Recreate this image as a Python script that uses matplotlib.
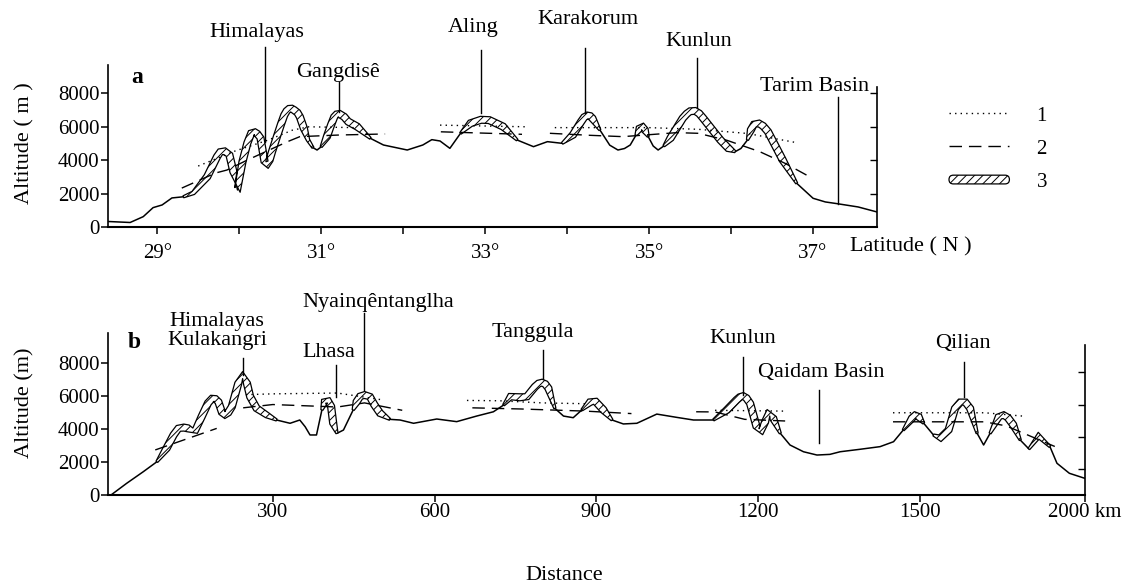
import numpy as np
import matplotlib
matplotlib.use("Agg")
import matplotlib.pyplot as plt
import matplotlib.patches as mpatches
from matplotlib.lines import Line2D
from matplotlib.legend_handler import HandlerPatch

plt.rcParams['font.family'] = ['Liberation Serif', 'DejaVu Serif']
plt.rcParams['hatch.linewidth'] = 0.7
plt.rcParams['hatch.color'] = 'black'

# ---------------- data: panel a (latitude profile) ----------------
lat_a = [28.40, 28.67, 28.83, 28.95, 29.06, 29.18, 29.32, 29.44, 29.61, 29.73,
         29.77, 29.82, 29.88, 29.93, 29.98, 30.04, 30.10, 30.15, 30.19, 30.22,
         30.26, 30.31, 30.34, 30.37, 30.40, 30.46, 30.51, 30.55, 30.58, 30.61,
         30.64, 30.67, 30.71, 30.74, 30.79, 30.84, 30.90, 30.95, 31.00, 31.07,
         31.12, 31.16, 31.19, 31.22, 31.28, 31.33, 31.44, 31.60, 31.76, 32.05,
         32.24, 32.35, 32.45, 32.57, 32.70, 32.82, 32.95, 33.05, 33.22, 33.39,
         33.59, 33.76, 33.94, 34.07, 34.17, 34.21, 34.25, 34.28, 34.31, 34.40,
         34.52, 34.62, 34.70, 34.77, 34.84, 34.88, 34.92, 34.95, 34.99, 35.05,
         35.11, 35.18, 35.26, 35.41, 35.46, 35.50, 35.56, 35.61, 35.66, 35.87,
         35.97, 36.05, 36.12, 36.20, 36.24, 36.28, 36.34, 36.39, 36.45, 36.63,
         36.80, 37.00, 37.15, 37.29, 37.55, 37.78]
alt_a = [330, 270, 620, 1160, 1320, 1740, 1810, 2040, 3010, 4210,
         4500, 4540, 4330, 3300, 2220, 3900, 5030, 5650, 5680, 5580,
         5330, 3900, 3710, 4000, 4500, 5410, 6150, 6700, 6950, 7080,
         7090, 7000, 6850, 6600, 5900, 5210, 4750, 4610, 4800, 5410,
         6100, 6600, 6750, 6780, 6600, 6310, 6010, 5310, 4910, 4610,
         4910, 5230, 5150, 4710, 5610, 6210, 6420, 6400, 6010, 5210,
         4810, 5110, 5010, 5510, 6300, 6580, 6680, 6650, 6500, 5810,
         4900, 4610, 4700, 4910, 5500, 5900, 6020, 5800, 5410, 4850,
         4610, 4850, 5310, 6510, 6780, 6930, 6950, 6800, 6510, 5210,
         4700, 4510, 4700, 5210, 5800, 6150, 6200, 6050, 5710, 4010,
         2620, 1720, 1500, 1400, 1200, 900]

# line 1 (dotted) segments, panel a
dot_a_lat = [[29.50, 29.95, 30.35, 30.65, 30.85, 31.40],
             [32.45, 33.50],
             [33.85, 35.00, 35.60, 36.20, 36.80]]
dot_a_alt = [[3650, 4550, 5200, 5800, 6000, 5950],
             [6100, 6000],
             [5950, 5950, 5850, 5600, 5050]]
# line 2 (dashed) segments, panel a
dash_a_lat = [[29.30, 29.71, 29.85, 30.10, 30.59, 30.74, 31.23, 31.78],
              [32.46, 33.45],
              [33.79, 34.28, 34.68, 35.34, 35.60, 35.95, 36.35, 36.66, 36.92]]
dash_a_alt = [[2330, 3230, 3410, 4010, 5110, 5410, 5510, 5570],
              [5700, 5550],
              [5610, 5490, 5410, 5650, 5610, 5190, 4510, 3810, 3110]]
# feature 3 (hatched) latitude ranges, panel a
hatch_a = [(29.32, 30.92), (31.00, 31.65), (32.66, 33.43), (33.94, 34.49),
           (34.83, 35.04), (35.17, 36.07), (36.15, 36.84)]

names_a = ['Himalayas', 'Gangdisê', 'Aling', 'Karakorum', 'Kunlun', 'Tarim Basin']
text_a = [(30.21, 11620), (31.21, 9280), (32.85, 11920), (34.25, 12400),
          (35.60, 11080), (37.02, 8440)]
ptr_a = [(30.32, 5100, 10800), (31.22, 6890, 8680), (32.95, 6830, 10600),
         (34.22, 6830, 10720), (35.59, 7130, 10120), (37.30, 1400, 7780)]

# ---------------- data: panel b (distance profile) ----------------
km_b = [0, 29, 60, 85, 103, 116, 125, 135, 143, 156,
        168, 180, 188, 193, 199, 206, 211, 217, 224, 236,
        244, 252, 258, 270, 289, 307, 332, 350, 360, 369,
        381, 391, 396, 402, 408, 412, 419, 431, 449, 455,
        462, 470, 480, 488, 499, 517, 536, 561, 604, 641,
        678, 709, 728, 740, 758, 771, 786, 793, 799, 805,
        811, 823, 839, 857, 873, 888, 898, 913, 929, 950,
        975, 1012, 1049, 1080, 1117, 1142, 1160, 1166, 1172, 1178,
        1185, 1197, 1205, 1213, 1219, 1228, 1241, 1259, 1284, 1309,
        1333, 1352, 1389, 1426, 1451, 1469, 1485, 1491, 1498, 1507,
        1525, 1537, 1553, 1565, 1575, 1584, 1593, 1606, 1618, 1630,
        1646, 1655, 1663, 1673, 1686, 1702, 1720, 1741, 1754, 1777,
        1806]
alt_b = [0, 710, 1420, 2020, 2840, 3650, 4050, 4100, 4050, 3910,
         4760, 5600, 5880, 5850, 5670, 5000, 4860, 5000, 5370, 6790,
         7290, 6790, 5980, 5270, 4860, 4560, 4360, 4560, 4150, 3650,
         3650, 5170, 5700, 5750, 5400, 4360, 3750, 3950, 5170, 5650,
         6000, 6080, 5980, 5500, 4970, 4600, 4560, 4360, 4620, 4460,
         4800, 5060, 5470, 5980, 5940, 5980, 6580, 6780, 6830, 6750,
         6490, 5270, 4800, 4700, 5170, 5650, 5700, 5170, 4560, 4320,
         4360, 4920, 4720, 4560, 4560, 5170, 5780, 5950, 6020, 5900,
         5570, 4150, 3850, 4460, 5000, 4660, 3750, 3040, 2630, 2430,
         2470, 2630, 2780, 2940, 3240, 3950, 4660, 4860, 4750, 4360,
         3650, 3450, 3950, 5270, 5650, 5650, 5270, 3750, 3040, 3750,
         4760, 4860, 4700, 4260, 3340, 2800, 3600, 2940, 1930, 1320,
         1010]

dot_b_km = [[250, 300, 420, 500], [660, 720, 800, 880], [1120, 1250],
            [1450, 1620, 1690]]
dot_b_alt = [[6100, 6150, 6200, 5800], [5750, 5730, 5600, 5550], [5150, 5100],
             [5000, 5000, 4800]]
dash_b_km = [[82, 196], [245, 300, 420, 470, 540], [670, 760, 880, 965],
             [1085, 1120, 1175, 1250], [1450, 1620, 1660, 1750]]
dash_b_alt = [[2740, 4050], [5300, 5500, 5350, 5600, 5150], [5300, 5230, 5100, 4950],
              [5060, 5050, 4600, 4500], [4450, 4450, 4200, 2950]]
hatch_b = [(85, 312), (384, 419), (440, 517), (718, 827), (870, 931),
           (1117, 1246), (1463, 1519), (1525, 1612), (1630, 1690), (1700, 1745)]

names_b = ['Himalayas\nKulakangri', 'Lhasa', 'Nyainqêntanglha', 'Tanggula',
           'Kunlun', 'Qaidam Basin', 'Qilian']
text_b = [(197, 9970), (404, 8690), (495, 11730), (783, 9910),
          (1172, 9540), (1317, 7420), (1580, 9240)]
ptr_b = [(244, 7300, 8330), (417, 5980, 7900), (469, 6400, 11060),
         (801, 7050, 8810), (1171, 6080, 8390), (1313, 3160, 6380),
         (1582, 5960, 8090)]

yticks = [0, 2000, 4000, 6000, 8000]
ytick_labels = ['0', '2000', '4000', '6000', '8000']
xticks_a = [29, 30, 31, 32, 33, 34, 35, 36, 37]
xtick_labels_a = ['29°', '', '31°', '', '33°', '', '35°', '', '37°']
xticks_b = [300, 600, 900, 1200, 1500, 1806]
xtick_labels_b = ['300', '600', '900', '1200', '1500', '2000 km']

# ---------------- figure ----------------
W, H = 1128, 586
fig = plt.figure(figsize=(W / 100, H / 100), dpi=100)
ax_a = fig.add_axes([108 / W, 1 - 227 / H, (877 - 108) / W, (227 - 65) / H])
ax_b = fig.add_axes([108 / W, 1 - 495 / H, (1085 - 108) / W, (495 - 333) / H])

DOT = (0, (1.0, 3.0))
DASH = (0, (9, 5))


def setup(ax, xlim, ytop, right_top, right_ticks):
    ax.set_xlim(*xlim)
    ax.set_ylim(0, ytop)
    ax.patch.set_visible(False)
    ax.spines['top'].set_visible(False)
    ax.spines['right'].set_visible(False)
    ax.spines['left'].set_linewidth(1.2)
    ax.spines['bottom'].set_linewidth(1.5)
    ax.set_yticks(yticks)
    ax.set_yticklabels(ytick_labels)
    ax.tick_params(axis='y', direction='out', length=5, width=1.1,
                   labelsize=15, pad=1)
    tw = ax.twinx()
    tw.set_ylim(0, ytop)
    tw.set_yticks(right_ticks)
    tw.tick_params(axis='y', direction='in', length=5, width=1.0,
                   labelright=False)
    for s in ['top', 'left', 'bottom']:
        tw.spines[s].set_visible(False)
    tw.spines['right'].set_linewidth(1.2)
    tw.spines['right'].set_bounds(0, right_top)
    return tw


def ribbon(ax, x, y, lo, hi, w=7.0):
    m = (x >= lo) & (x <= hi)
    if m.sum() < 2:
        return
    pts = ax.transData.transform(np.column_stack([x[m], y[m]]))
    d = np.gradient(pts, axis=0)
    n = np.column_stack([-d[:, 1], d[:, 0]])
    n /= np.linalg.norm(n, axis=1)[:, None]
    seg = np.r_[0, np.cumsum(np.hypot(*np.diff(pts, axis=0).T))]
    t = seg / seg[-1]
    taper = np.clip(np.minimum(t, 1 - t) / 0.06, 0.3, 1.0)
    up = pts + n * (w / 2) * taper[:, None]
    dn = pts - n * (w / 2) * taper[:, None]
    poly = ax.transData.inverted().transform(np.vstack([up, dn[::-1]]))
    ax.fill(poly[:, 0], poly[:, 1], facecolor='white', edgecolor='black',
            hatch='////', lw=0.9, zorder=3, joinstyle='round')


setup(ax_a, (28.40, 37.78), 9700, 8400, [2000, 4000, 6000, 8000])
setup(ax_b, (-5.6, 1806), 9850, 9120, [1600, 3500, 5500, 7500])

# panel a
xa, ya = np.array(lat_a), np.array(alt_a)
ax_a.plot(xa, ya, color='black', lw=1.1, zorder=2, solid_joinstyle='round')
for lo, hi in hatch_a:
    ribbon(ax_a, xa, ya, lo, hi)
for xs, ys in zip(dot_a_lat, dot_a_alt):
    ax_a.plot(xs, ys, color='black', lw=1.0, linestyle=DOT, zorder=4)
for xs, ys in zip(dash_a_lat, dash_a_alt):
    ax_a.plot(xs, ys, color='black', lw=1.0, linestyle=DASH, zorder=4)
for name, (tx, ty), (px, y0, y1) in zip(names_a, text_a, ptr_a):
    ax_a.text(tx, ty, name, fontsize=16, ha='center', va='center', clip_on=False)
    ax_a.plot([px, px], [y0, y1], color='black', lw=1.0, clip_on=False, zorder=5)
ax_a.text(28.76, 8980, 'a', fontsize=17, fontweight='bold', ha='center', va='center')
ax_a.set_xticks(xticks_a)
ax_a.set_xticklabels(xtick_labels_a)
ax_a.tick_params(axis='x', direction='out', length=5, width=1.1, labelsize=15, pad=7)

# panel b
xb, yb = np.array(km_b), np.array(alt_b)
ax_b.plot(xb, yb, color='black', lw=1.1, zorder=2, solid_joinstyle='round')
for lo, hi in hatch_b:
    ribbon(ax_b, xb, yb, lo, hi)
for xs, ys in zip(dot_b_km, dot_b_alt):
    ax_b.plot(xs, ys, color='black', lw=1.0, linestyle=DOT, zorder=4)
for xs, ys in zip(dash_b_km, dash_b_alt):
    ax_b.plot(xs, ys, color='black', lw=1.0, linestyle=DASH, zorder=4)
for name, (tx, ty), (px, y0, y1) in zip(names_b, text_b, ptr_b):
    ax_b.text(tx, ty, name, fontsize=16, ha='center', va='center',
              linespacing=1.05, clip_on=False)
    ax_b.plot([px, px], [y0, y1], color='black', lw=1.0, clip_on=False, zorder=5)
ax_b.text(43, 9300, 'b', fontsize=17, fontweight='bold', ha='center', va='center',
          clip_on=False)
ax_b.set_xticks(xticks_b)
ax_b.set_xticklabels(xtick_labels_b)
ax_b.tick_params(axis='x', direction='out', length=5, width=1.1, labelsize=15, pad=1)

# axis titles
fig.text(25 / W, 1 - 143 / H, 'Altitude ( m )', rotation=90, fontsize=16,
         ha='center', va='center')
fig.text(25 / W, 1 - 403 / H, 'Altitude (m)', rotation=90, fontsize=16,
         ha='center', va='center')
fig.text(911 / W, 1 - 247 / H, 'Latitude ( N )', fontsize=16, ha='center', va='center')
fig.text(564 / W, 1 - 575 / H, 'Distance', fontsize=16, ha='center', va='center')


# legend
def sausage(legend, orig_handle, xdescent, ydescent, width, height, fontsize):
    h = height * 0.6
    return mpatches.FancyBboxPatch(
        (-xdescent, -ydescent + (height - h) / 2), width, h,
        boxstyle=f"round,pad=0,rounding_size={h / 2}")


h1 = Line2D([], [], color='black', lw=1.0, linestyle=DOT)
h2 = Line2D([], [], color='black', lw=1.0, linestyle=DASH)
h3 = mpatches.Patch(facecolor='white', edgecolor='black', hatch='////', lw=0.9)
ax_a.legend([h1, h2, h3], ['1', '2', '3'], loc='upper left',
            bbox_to_anchor=(949 / W, 1 - 106 / H), bbox_transform=fig.transFigure,
            frameon=False, fontsize=15, handlelength=2.9, handletextpad=1.3,
            labelspacing=0.65, borderpad=0, borderaxespad=0,
            handler_map={mpatches.Patch: HandlerPatch(patch_func=sausage)})

fig.savefig('out.png', dpi=100)
